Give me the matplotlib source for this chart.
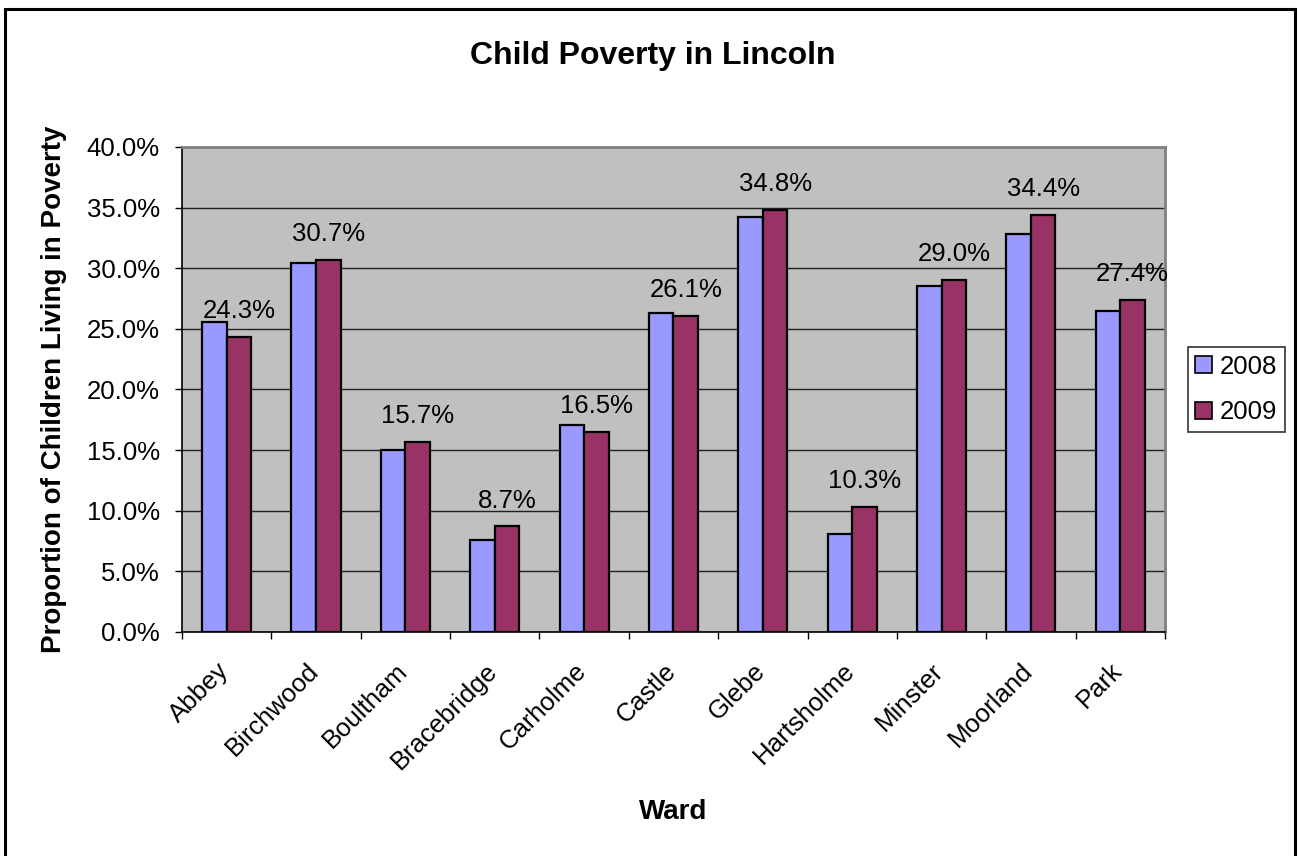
import matplotlib.pyplot as plt
import numpy as np
from matplotlib.patches import Rectangle
from matplotlib.ticker import FuncFormatter
from matplotlib.transforms import ScaledTranslation

plt.rcParams['font.family'] = ['Liberation Sans', 'DejaVu Sans']

wards = ["Abbey", "Birchwood", "Boultham", "Bracebridge", "Carholme", "Castle",
         "Glebe", "Hartsholme", "Minster", "Moorland", "Park"]
pov_2008 = [25.6, 30.4, 15.0, 7.6, 17.1, 26.3, 34.2, 8.1, 28.5, 32.8, 26.5]
pov_2009 = [24.3, 30.7, 15.7, 8.7, 16.5, 26.1, 34.8, 10.3, 29.0, 34.4, 27.4]

fs = 18.5

fig = plt.figure(figsize=(12.98, 8.56), dpi=100)
ax = fig.add_axes([0.1402, 0.2617, 0.7573, 0.5666])
# outer frame around the whole chart
fig.patches.append(Rectangle((0.004, -0.01), 0.994, 1.0, transform=fig.transFigure,
                             fill=False, edgecolor="black", linewidth=2.2))

x = np.arange(len(wards))
w = 0.275
ax.set_facecolor("#C0C0C0")
ax.bar(x - w / 2, pov_2008, w, color="#9999FF", edgecolor="black", linewidth=1.6,
       label="2008", zorder=3)
bars9 = ax.bar(x + w / 2, pov_2009, w, color="#993366", edgecolor="black", linewidth=1.6,
               label="2009", zorder=3)

for b, v in zip(bars9, pov_2009):
    ax.annotate(f"{v:.1f}%", (b.get_x() + b.get_width() / 2, v), xytext=(0, 10),
                textcoords="offset points", ha="center", va="bottom", fontsize=fs,
                zorder=4, annotation_clip=False)

ax.set_xlim(-0.5, len(wards) - 0.5)
ax.set_ylim(0, 40)
ax.set_yticks(np.arange(0, 41, 5))
ax.yaxis.set_major_formatter(FuncFormatter(lambda v, p: f"{v:.1f}%"))
ax.yaxis.grid(True, color="#202020", linewidth=1.0, zorder=1)
ax.set_axisbelow(True)

ax.set_xticks(x)
ax.set_xticklabels(wards, rotation=45, ha="right", rotation_mode="anchor", fontsize=fs)
ax.set_xticks(np.arange(-0.5, len(wards), 1), minor=True)
ax.tick_params(axis="x", which="major", length=0, pad=12)
ax.tick_params(axis="x", which="minor", length=5, width=1, color="black")
ax.tick_params(axis="y", length=5, width=1, labelsize=fs, pad=11)
# shift ward names down-left along their slant
shift = ScaledTranslation(-0.1, -0.1, fig.dpi_scale_trans)
for lab in ax.get_xticklabels():
    lab.set_transform(lab.get_transform() + shift)

for s in ["top", "right"]:
    ax.spines[s].set_color("#808080")
    ax.spines[s].set_linewidth(2)
for s in ["left", "bottom"]:
    ax.spines[s].set_color("black")
    ax.spines[s].set_linewidth(1.2)

fig.text(653 / 1298, 1 - 56 / 856, "Child Poverty in Lincoln", fontsize=23,
         fontweight="bold", ha="center", va="center")
ax.set_ylabel("Proportion of Children Living in Poverty", fontsize=20, fontweight="bold",
              labelpad=14)
ax.xaxis.set_label_coords(0.5, -(812 - 632) / 485)
ax.set_xlabel("Ward", fontsize=20, fontweight="bold", va="center")

leg = ax.legend(loc="center left", bbox_to_anchor=(1.023, 0.5), fontsize=fs, frameon=True,
                fancybox=False, edgecolor="black", handlelength=0.65, handleheight=0.65,
                handletextpad=0.3, labelspacing=0.85, borderpad=0.3, borderaxespad=0)
leg.get_frame().set_linewidth(1.2)
for h in leg.legend_handles:
    h.set_linewidth(1.2)

fig.savefig("out.png", dpi=100, facecolor="white")
